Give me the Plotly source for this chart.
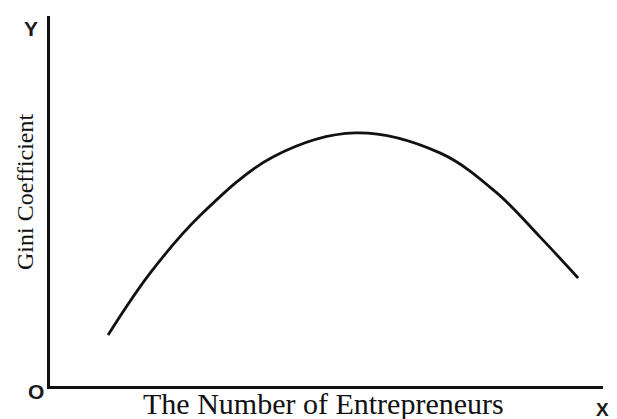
import plotly.graph_objects as go

# Number of entrepreneurs (relative units) and Gini coefficient (relative units)
entrepreneurs = [10.5, 18.1, 27.1, 40.3, 55.2, 70.5, 80.8, 88.6, 95.5]
gini = [13.8, 30.5, 46.0, 61.9, 68.4, 63.0, 52.2, 40.3, 29.2]

# The page body adds an 8px offset, so the figure is sized to fill the rest
W, H = 609, 411
OFF = 8
ml, mr, mt, mb = 42, 14, 8, 33
pw, ph = W - ml - mr, H - mt - mb


def px(x):
    return (x - OFF - ml) / pw


def py(y):
    return 1 - (y - OFF - mt) / ph


fig = go.Figure()
fig.add_trace(go.Scatter(
    x=entrepreneurs, y=gini, mode="lines",
    line=dict(color="#111111", width=2.8, shape="spline", smoothing=1.0),
    hoverinfo="skip", showlegend=False,
))

letter_font = dict(family="Liberation Sans", size=21, color="#1a1a1a", weight="bold")

fig.update_layout(
    width=W, height=H,
    margin=dict(l=ml, r=mr, t=mt, b=mb, pad=0),
    paper_bgcolor="white", plot_bgcolor="white",
    xaxis=dict(range=[0, 100], showgrid=False, zeroline=False, showticklabels=False,
               ticks="", showline=True, linecolor="#111111", linewidth=3, fixedrange=True),
    yaxis=dict(range=[0, 100], showgrid=False, zeroline=False, showticklabels=False,
               ticks="", showline=True, linecolor="#111111", linewidth=3, fixedrange=True),
    annotations=[
        dict(text="Y", xref="paper", yref="paper", x=px(31), y=py(29),
             showarrow=False, font=letter_font, xanchor="center", yanchor="middle"),
        dict(text="O", xref="paper", yref="paper", x=px(36), y=py(391),
             showarrow=False, font=letter_font, xanchor="center", yanchor="middle"),
        dict(text="X", xref="paper", yref="paper", x=px(602), y=py(409),
             showarrow=False, font=dict(family="Liberation Sans", size=19, color="#1a1a1a", weight="bold"),
             xanchor="center", yanchor="middle"),
        dict(text="The Number of Entrepreneurs", xref="paper", yref="paper",
             x=px(323), y=py(403),
             showarrow=False, font=dict(family="Liberation Serif", size=30, color="#111111"),
             xanchor="center", yanchor="middle"),
        dict(text="Gini Coefficient", xref="paper", yref="paper", textangle=-90,
             x=px(25), y=py(192),
             showarrow=False, font=dict(family="Liberation Serif", size=24, color="#111111"),
             xanchor="center", yanchor="middle"),
    ],
)

fig.write_html("out.html")
